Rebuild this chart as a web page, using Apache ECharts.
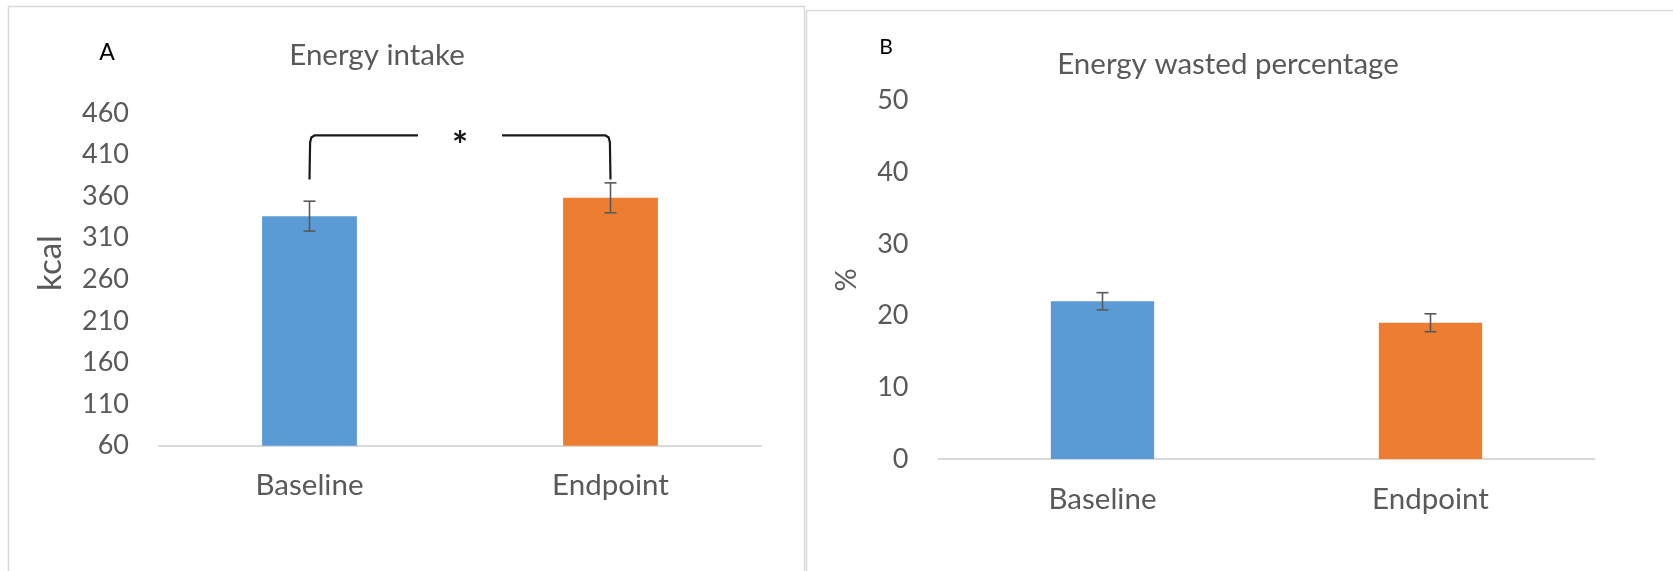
<!DOCTYPE html>
<html>
<head>
<meta charset="utf-8">
<script src="https://cdn.jsdelivr.net/npm/echarts@6/dist/echarts.min.js"></script>
<style>
  html, body { margin: 0; padding: 0; background: #fff; }
  #chart { width: 1673px; height: 571px; }
</style>
</head>
<body>
<div id="chart"></div>
<script>
// Group labels shared by both panels
const categories = ['Baseline', 'Endpoint'];

// Panel A: energy intake (kcal), mean and standard error
const intakeMean = [336, 358];
const intakeErr = [18, 18];
const intakeAxis = { min: 60, max: 460, step: 50 };

// Panel B: energy wasted (%), mean and standard error
const wastedMean = [22.0, 19.0];
const wastedErr = [1.2, 1.25];
const wastedAxis = { min: 0, max: 50, step: 10 };

// Significance bracket between the two intake bars (kcal levels)
const intakeBracket = [[0, 1, 380, 433]];
const bracketMark = '*';

const barColors = ['#5B9BD5', '#ED7D31'];
const FONT = 'Lato, "Open Sans", sans-serif';
const GREY = '#595959';

function barData(values) {
  return values.map((v, i) => ({ value: v, itemStyle: { color: barColors[i % barColors.length] } }));
}

function errorBars(gridIdx, means, errs) {
  return {
    type: 'custom',
    xAxisIndex: gridIdx,
    yAxisIndex: gridIdx,
    z: 5,
    silent: true,
    data: means.map((m, i) => [i, m - errs[i], m + errs[i]]),
    renderItem(params, api) {
      const lo = api.coord([api.value(0), api.value(1)]);
      const hi = api.coord([api.value(0), api.value(2)]);
      const x = lo[0];
      const cap = 6;
      const style = { stroke: GREY, lineWidth: 1.6 };
      return {
        type: 'group',
        children: [
          { type: 'line', shape: { x1: x, y1: lo[1], x2: x, y2: hi[1] }, style },
          { type: 'line', shape: { x1: x - cap, y1: lo[1], x2: x + cap, y2: lo[1] }, style },
          { type: 'line', shape: { x1: x - cap, y1: hi[1], x2: x + cap, y2: hi[1] }, style }
        ]
      };
    }
  };
}

function bracketSeries(gridIdx, data, mark) {
  return {
    type: 'custom',
    xAxisIndex: gridIdx,
    yAxisIndex: gridIdx,
    z: 6,
    silent: true,
    data: data,
    renderItem(params, api) {
      const a = api.coord([api.value(0), api.value(2)]);
      const b = api.coord([api.value(1), api.value(2)]);
      const t = api.coord([api.value(0), api.value(3)]);
      const x0 = a[0], x1 = b[0], yb = a[1], yt = t[1];
      const xm = (x0 + x1) / 2;
      const gap = 42;
      const style = { stroke: '#1a1a1a', lineWidth: 2.2, fill: null };
      return {
        type: 'group',
        children: [
          { type: 'polyline', shape: { points: [[x0, yb], [x0 + 0.6, yt + 7], [x0 + 1.8, yt + 2], [x0 + 5, yt], [xm - gap, yt]] }, style },
          { type: 'polyline', shape: { points: [[x1, yb], [x1 - 0.6, yt + 7], [x1 - 1.8, yt + 2], [x1 - 5, yt], [xm + gap, yt]] }, style },
          { type: 'text', style: { text: mark, x: xm, y: yt + 11, align: 'center', verticalAlign: 'middle', fontSize: 38, fontWeight: 'bold', fill: '#1a1a1a', fontFamily: FONT } }
        ]
      };
    }
  };
}

function catAxis(gridIndex) {
  return {
    type: 'category', gridIndex, data: categories,
    axisLine: { lineStyle: { color: '#d9d9d9', width: 2 } },
    axisTick: { show: false },
    axisLabel: { color: GREY, fontSize: 29.5, fontFamily: FONT, margin: 25 }
  };
}

function valAxis(gridIndex, ax) {
  return {
    type: 'value', gridIndex, min: ax.min, max: ax.max, interval: ax.step,
    axisLine: { show: false }, axisTick: { show: false }, splitLine: { show: false },
    axisLabel: { color: GREY, fontSize: 27, fontFamily: FONT, margin: 30 }
  };
}

const chart = echarts.init(document.getElementById('chart'));
chart.setOption({
  backgroundColor: '#fff',
  animation: false,
  title: [
    { text: 'Energy intake', left: 372, top: 35, textAlign: 'center',
      textStyle: { color: GREY, fontSize: 29.5, fontWeight: 'normal', fontFamily: FONT } },
    { text: 'Energy wasted percentage', left: 1223, top: 44, textAlign: 'center',
      textStyle: { color: GREY, fontSize: 29.5, fontWeight: 'normal', fontFamily: FONT } }
  ],
  graphic: [
    { type: 'rect', z: -10, shape: { x: 8.5, y: 6.5, width: 796, height: 620 }, style: { fill: null, stroke: '#d9d9d9', lineWidth: 1.5 } },
    { type: 'rect', z: -10, shape: { x: 806.5, y: 10.5, width: 900, height: 620 }, style: { fill: null, stroke: '#d9d9d9', lineWidth: 1.5 } },
    { type: 'text', style: { text: 'A', x: 107, y: 53, align: 'center', verticalAlign: 'middle', fontSize: 23, fill: '#000', fontFamily: FONT } },
    { type: 'text', style: { text: 'B', x: 886, y: 47, align: 'center', verticalAlign: 'middle', fontSize: 21, fill: '#000', fontFamily: FONT } },
    { type: 'text', x: 50, y: 263, rotation: Math.PI / 2, style: { text: 'kcal', x: 0, y: 0, align: 'center', verticalAlign: 'middle', fontSize: 33, fill: GREY, fontFamily: FONT } },
    { type: 'text', x: 847, y: 280, rotation: Math.PI / 2, style: { text: '%', x: 0, y: 0, align: 'center', verticalAlign: 'middle', fontSize: 29, fill: GREY, fontFamily: FONT } }
  ],
  grid: [
    { left: 159, top: 113, width: 602, height: 332.7 },
    { left: 938.5, top: 100.5, width: 656, height: 358.5 }
  ],
  xAxis: [catAxis(0), catAxis(1)],
  yAxis: [valAxis(0, intakeAxis), valAxis(1, wastedAxis)],
  series: [
    { type: 'bar', xAxisIndex: 0, yAxisIndex: 0, barWidth: '31.5%', data: barData(intakeMean) },
    errorBars(0, intakeMean, intakeErr),
    bracketSeries(0, intakeBracket, bracketMark),
    { type: 'bar', xAxisIndex: 1, yAxisIndex: 1, barWidth: '31.5%', data: barData(wastedMean) },
    errorBars(1, wastedMean, wastedErr)
  ]
});
</script>
</body>
</html>
